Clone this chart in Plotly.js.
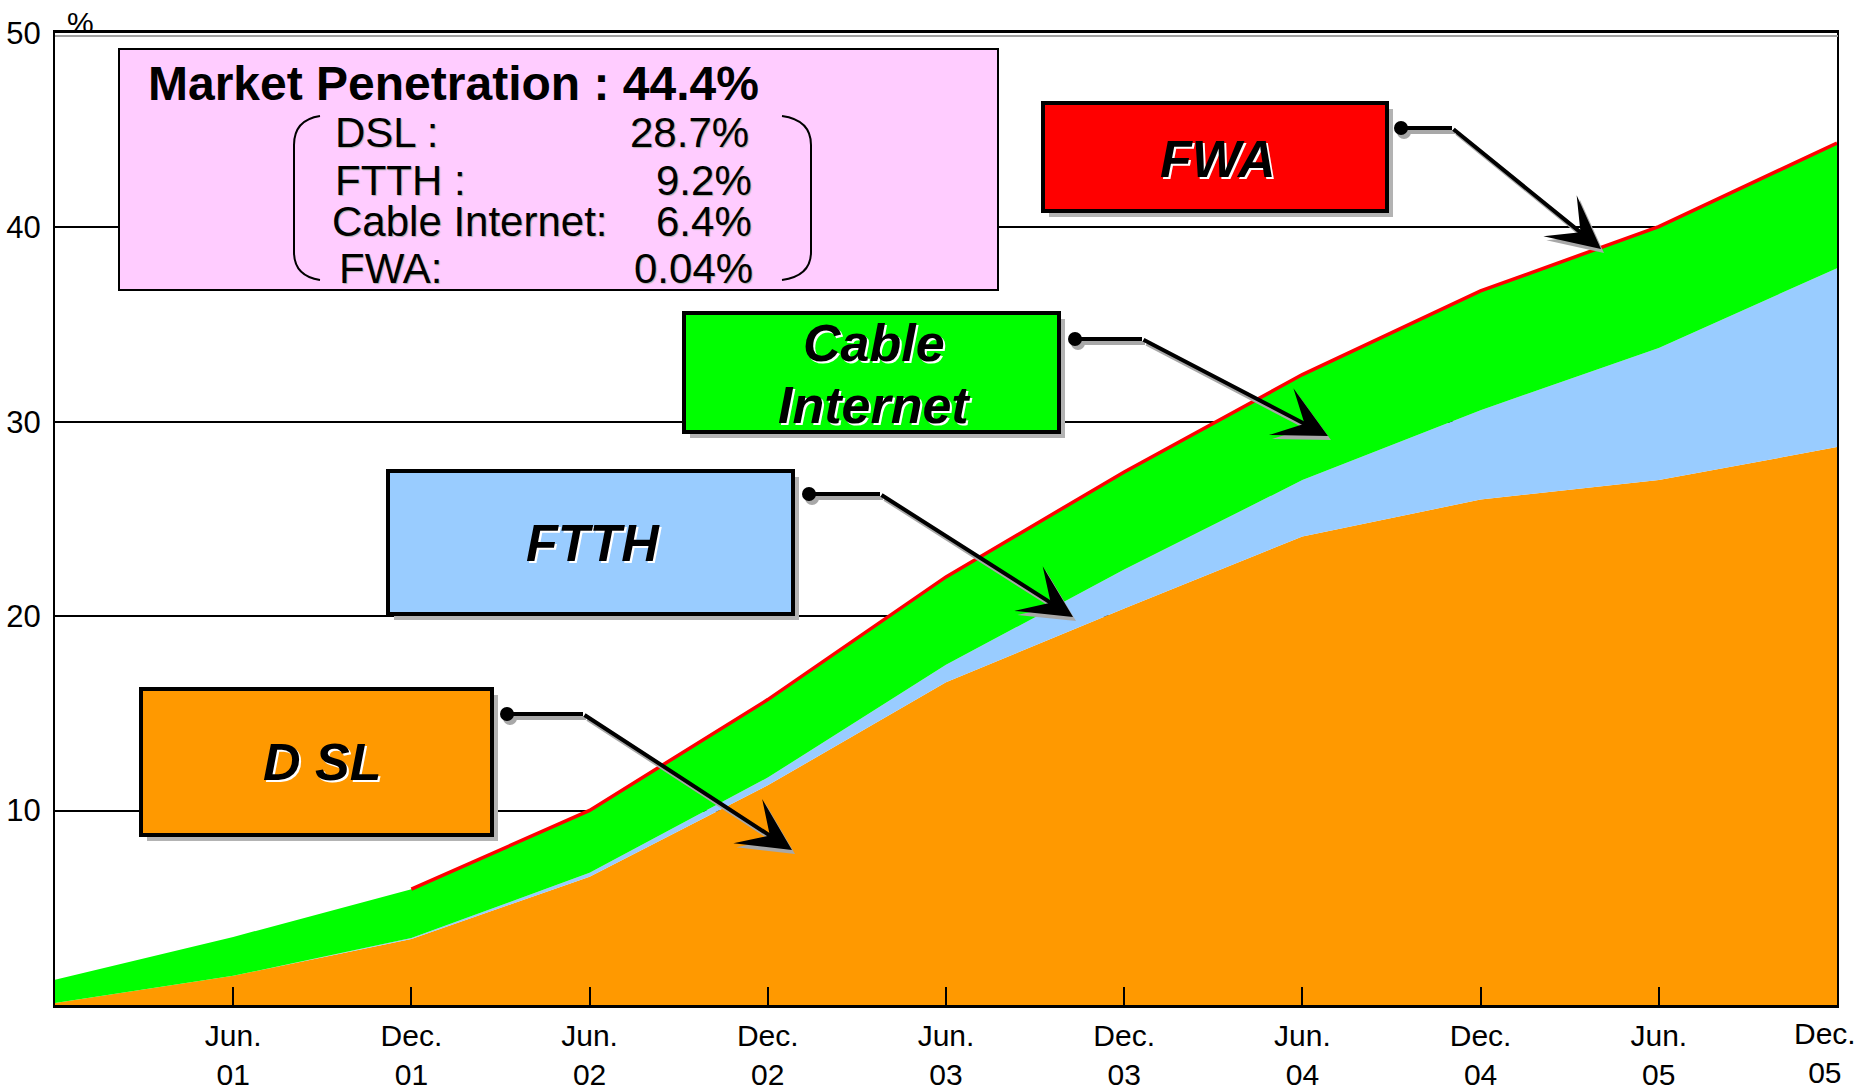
<!DOCTYPE html>
<html>
<head>
<meta charset="utf-8">
<script src="https://cdn.plot.ly/plotly-3.0.1.min.js"></script>
<style>html,body{margin:0;padding:0;background:#fff;}#chart{width:1859px;height:1091px;}</style>
</head>
<body>
<div id="chart"></div>
<script>
// ---- data ----
const periods = ['Dec. 00','Jun. 01','Dec. 01','Jun. 02','Dec. 02','Jun. 03','Dec. 03','Jun. 04','Dec. 04','Jun. 05','Dec. 05'];
const tickLabels = ['Jun.<br>01','Dec.<br>01','Jun.<br>02','Dec.<br>02','Jun.<br>03','Dec.<br>03','Jun.<br>04','Dec.<br>04','Jun.<br>05','Dec.<br>05'];
const dsl   = [0.1, 1.5, 3.4, 6.6, 11.3, 16.6, 20.4, 24.1, 26.0, 27.0, 28.7];
const ftth  = [0.0, 0.0, 0.05, 0.2, 0.4, 0.9, 2.0, 2.9, 4.6, 6.8, 9.2];
const cable = [1.2, 2.0, 2.5, 3.2, 4.0, 4.5, 5.0, 5.4, 6.1, 6.2, 6.4];
const fwa   = [0.0, 0.0, 0.01, 0.01, 0.01, 0.02, 0.02, 0.03, 0.03, 0.04, 0.04];
const yTicks = [10, 20, 30, 40, 50];
const summaryTitle = 'Market Penetration : 44.4%';
const summaryLabels = ['DSL :', 'FTTH :', 'Cable Internet:', 'FWA:'];
const summaryValues = ['28.7%', '9.2%', '6.4%', '0.04%'];

// ---- geometry helpers (layout placement only) ----
const L = 55, T = 33, W = 1782, H = 972;
const px = x => (x - L) / W;
const py = y => (T + H - y) / H;
const FONT = 'Liberation Sans, Arial, sans-serif';
const TICKSIZE = 30;

const total = periods.map((_, i) => dsl[i] + ftth[i] + cable[i] + fwa[i]);

const traces = [
  {x: periods, y: dsl, name: 'DSL', stackgroup: 'one', mode: 'lines', line: {width: 0, color: '#FF9900'}, fillcolor: '#FF9900', hoverinfo: 'skip'},
  {x: periods, y: ftth, name: 'FTTH', stackgroup: 'one', mode: 'lines', line: {width: 0, color: '#99CCFF'}, fillcolor: '#99CCFF', hoverinfo: 'skip'},
  {x: periods, y: cable, name: 'Cable Internet', stackgroup: 'one', mode: 'lines', line: {width: 0, color: '#00FF00'}, fillcolor: '#00FF00', hoverinfo: 'skip'},
  {x: periods, y: fwa, name: 'FWA', stackgroup: 'one', mode: 'lines', line: {width: 0, color: '#FF0000'}, fillcolor: '#FF0000', hoverinfo: 'skip'},
  {x: periods.slice(2), y: total.slice(2), name: 'FWA line', mode: 'lines', line: {width: 3.5, color: '#FF0000'}, hoverinfo: 'skip'}
];

const shapes = [];
const annotations = [];

// top frame shadow
shapes.push({type: 'line', xref: 'paper', yref: 'paper', x0: px(55), x1: px(1838), y0: py(36), y1: py(36), line: {color: '#A0A0A0', width: 2}});

// labelled boxes
function labelBox(x0, y0, x1, y1, fill) {
  shapes.push({type: 'rect', xref: 'paper', yref: 'paper', x0: px(x0 + 6), x1: px(x1 + 6), y0: py(y0 + 6), y1: py(y1 + 6), fillcolor: '#B3B3B3', line: {width: 0}});
  shapes.push({type: 'rect', xref: 'paper', yref: 'paper', x0: px(x0), x1: px(x1), y0: py(y0), y1: py(y1), fillcolor: fill, line: {color: '#000', width: 4}});
}
function boxText(text, cx, cy) {
  annotations.push({xref: 'paper', yref: 'paper', x: px(cx), y: py(cy), xanchor: 'center', yanchor: 'middle', showarrow: false, text: text,
    font: {family: FONT, size: 52, color: '#000', weight: 'bold', style: 'italic', shadow: '2px 2px 0px #ffffff'}});
}
function connector(dx, dy, cx, tx, ty) {
  // shadow
  shapes.push({type: 'line', xref: 'paper', yref: 'paper', x0: px(dx + 3), x1: px(cx + 3), y0: py(dy + 4), y1: py(dy + 4), line: {color: '#A8A8A8', width: 4}});
  shapes.push({type: 'circle', xref: 'paper', yref: 'paper', x0: px(dx - 7 + 3), x1: px(dx + 7 + 3), y0: py(dy - 7 + 4), y1: py(dy + 7 + 4), fillcolor: '#A8A8A8', line: {width: 0}});
  annotations.push({xref: 'paper', yref: 'paper', x: px(tx + 3), y: py(ty + 4), ax: cx - tx, ay: dy - ty, text: '', showarrow: true,
    arrowhead: 3, arrowsize: 2.2, arrowwidth: 4, arrowcolor: '#A8A8A8', standoff: 0, startstandoff: 0});
  // main
  shapes.push({type: 'line', xref: 'paper', yref: 'paper', x0: px(dx), x1: px(cx), y0: py(dy), y1: py(dy), line: {color: '#000', width: 4}});
  shapes.push({type: 'circle', xref: 'paper', yref: 'paper', x0: px(dx - 7), x1: px(dx + 7), y0: py(dy - 7), y1: py(dy + 7), fillcolor: '#000', line: {width: 0}});
  annotations.push({xref: 'paper', yref: 'paper', x: px(tx), y: py(ty), ax: cx - tx, ay: dy - ty, text: '', showarrow: true,
    arrowhead: 3, arrowsize: 2.2, arrowwidth: 4, arrowcolor: '#000', standoff: 0, startstandoff: 0});
}

labelBox(1043, 103, 1387, 211, '#FF0000');
boxText('FWA', 1218, 159);
connector(1401, 128, 1452, 1601, 249);

labelBox(684, 313, 1059, 432, '#00FF00');
boxText('Cable', 874, 343);
boxText('Internet', 874, 405);
connector(1075, 339, 1142, 1328, 436);

labelBox(388, 471, 793, 614, '#99CCFF');
boxText('FTTH', 593, 543);
connector(809, 494, 880, 1073, 617);

labelBox(141, 689, 492, 835, '#FF9900');
boxText('D SL', 322, 762);
connector(507, 714, 583, 792, 850);

// info box
shapes.push({type: 'rect', xref: 'paper', yref: 'paper', x0: px(119), x1: px(998), y0: py(49), y1: py(290), fillcolor: '#FFCCFF', line: {color: '#000', width: 2}});
// brackets
shapes.push({type: 'path', xref: 'paper', yref: 'paper', line: {color: '#000', width: 2},
  path: `M ${px(320)},${py(116)} Q ${px(294)},${py(120)} ${px(294)},${py(145)} L ${px(294)},${py(252)} Q ${px(294)},${py(276)} ${px(320)},${py(280)}`});
shapes.push({type: 'path', xref: 'paper', yref: 'paper', line: {color: '#000', width: 2},
  path: `M ${px(782)},${py(116)} Q ${px(811)},${py(120)} ${px(811)},${py(145)} L ${px(811)},${py(252)} Q ${px(811)},${py(276)} ${px(782)},${py(280)}`});

annotations.push({xref: 'paper', yref: 'paper', x: px(146), y: py(83), xanchor: 'left', yanchor: 'middle', showarrow: false, text: summaryTitle,
  font: {family: FONT, size: 48, color: '#000', weight: 'bold'}});
const rowY = [133, 180, 222, 268];
const rowX = [334, 334, 331, 338];
const valX = [750, 753, 753, 754];
summaryLabels.forEach((lab, i) => {
  annotations.push({xref: 'paper', yref: 'paper', x: px(rowX[i]), y: py(rowY[i]), xanchor: 'left', yanchor: 'middle', showarrow: false, text: lab, borderpad: 0,
    font: {family: FONT, size: 42, color: '#000', shadow: '1px 1px 1px #b0b0b0'}});
  annotations.push({xref: 'paper', yref: 'paper', x: px(valX[i]), y: py(rowY[i]), xanchor: 'right', yanchor: 'middle', showarrow: false, text: summaryValues[i], borderpad: 0,
    font: {family: FONT, size: 42, color: '#000', shadow: '1px 1px 1px #b0b0b0'}});
});

// % unit label
annotations.push({xref: 'paper', yref: 'paper', x: px(80), y: py(22), xanchor: 'center', yanchor: 'middle', showarrow: false, text: '%',
  font: {family: FONT, size: 30, color: '#000'}});

// last x label sits against the right page edge, pulled slightly left of its tick
annotations.push({xref: 'paper', yref: 'paper', x: px(1825), y: py(1015), xanchor: 'center', yanchor: 'top', showarrow: false,
  text: tickLabels[tickLabels.length - 1], font: {family: FONT, size: TICKSIZE, color: '#000'}});

const layout = {
  width: 1859, height: 1091,
  margin: {l: L, r: 1859 - L - W, t: T, b: 1091 - T - H, pad: 0},
  paper_bgcolor: '#fff', plot_bgcolor: '#fff',
  showlegend: false,
  font: {family: FONT, color: '#000'},
  xaxis: {
    type: 'category', range: [0, periods.length - 1],
    tickvals: periods.slice(1), ticktext: tickLabels.slice(0, -1).concat(['']),
    ticks: 'inside', ticklen: 18, tickwidth: 2, tickcolor: '#000',
    tickfont: {family: FONT, size: TICKSIZE, color: '#000'},
    showline: true, linecolor: '#000', linewidth: 3, mirror: true,
    showgrid: false, zeroline: false, ticklabelstandoff: 2
  },
  yaxis: {
    range: [0, 50], tickvals: yTicks, ticktext: yTicks.map(String),
    ticks: '', tickfont: {family: FONT, size: 31, color: '#000'},
    showline: true, linecolor: '#000', linewidth: 2, mirror: true,
    showgrid: true, gridcolor: '#000', gridwidth: 2, zeroline: false,
    ticklabelstandoff: 6
  },
  shapes: shapes,
  annotations: annotations
};

Plotly.newPlot('chart', traces, layout, {displayModeBar: false, staticPlot: true});
</script>
</body>
</html>
